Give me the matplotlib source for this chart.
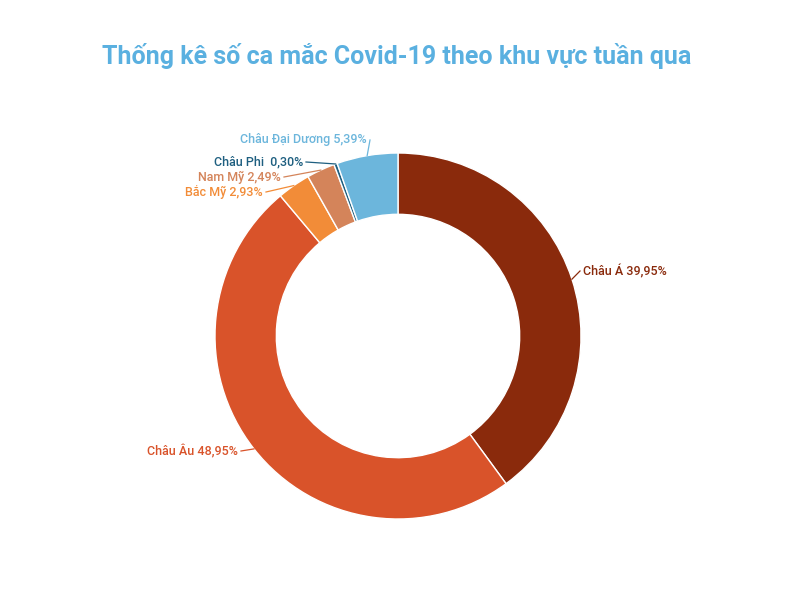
import numpy as np
import matplotlib.pyplot as plt

plt.rcParams['font.family'] = ['Roboto', 'DejaVu Sans']

labels = ["Châu Á", "Châu Âu", "Bắc Mỹ", "Nam Mỹ", "Châu Phi", "Châu Đại Dương"]
values = [39.95, 48.95, 2.93, 2.49, 0.30, 5.39]
colors = ["#8A2A0C", "#D9532A", "#F28C38", "#D4845A", "#1E5F80", "#6CB6DC"]
# label anchor positions in pixels (x, y from top), alignment
label_px = [(583, 271, "left"), (238, 451, "right"), (263, 192, "right"),
            (281, 177, "right"), (303, 162, "right"), (367, 140, "right")]

W, H = 794, 606
cx, cy, R = 398, 336, 183
fig = plt.figure(figsize=(W / 100, H / 100), dpi=100)
ax = fig.add_axes([(cx - 250) / W, (H - cy - 250) / H, 500 / W, 500 / H])

wedges, _ = ax.pie(values, colors=colors, startangle=90, counterclock=False,
                   radius=1, wedgeprops=dict(width=0.335, edgecolor="white", linewidth=1))
ax.set_xlim(-250 / R, 250 / R)
ax.set_ylim(-250 / R, 250 / R)
ax.axis("off")

def to_data(px, py):
    return (px - cx) / R, (cy - py) / R

for w, lab, v, c, (px, py, ha) in zip(wedges, labels, values, colors, label_px):
    ang = np.deg2rad((w.theta1 + w.theta2) / 2)
    sx, sy = np.cos(ang), np.sin(ang)
    tx, ty = to_data(px, py)
    gap = 3 / R if ha == "left" else -3 / R
    ax.plot([sx, tx - gap], [sy, ty], color=c, lw=0.9, clip_on=False)
    txt = f"{lab} {v:.2f}%".replace(".", ",")
    if lab == "Châu Phi":
        txt = txt.replace("Châu Phi", "Châu Phi ")
    ax.text(tx, ty, txt, ha=ha, va="center", color=c, fontsize=9, fontweight="medium")

fig.text(0.5, 1 - 56 / H, "Thống kê số ca mắc Covid-19 theo khu vực tuần qua",
         ha="center", va="center", color="#5AB0E0", fontsize=18, fontweight="bold")

fig.savefig("out.png", dpi=100, facecolor="white")
